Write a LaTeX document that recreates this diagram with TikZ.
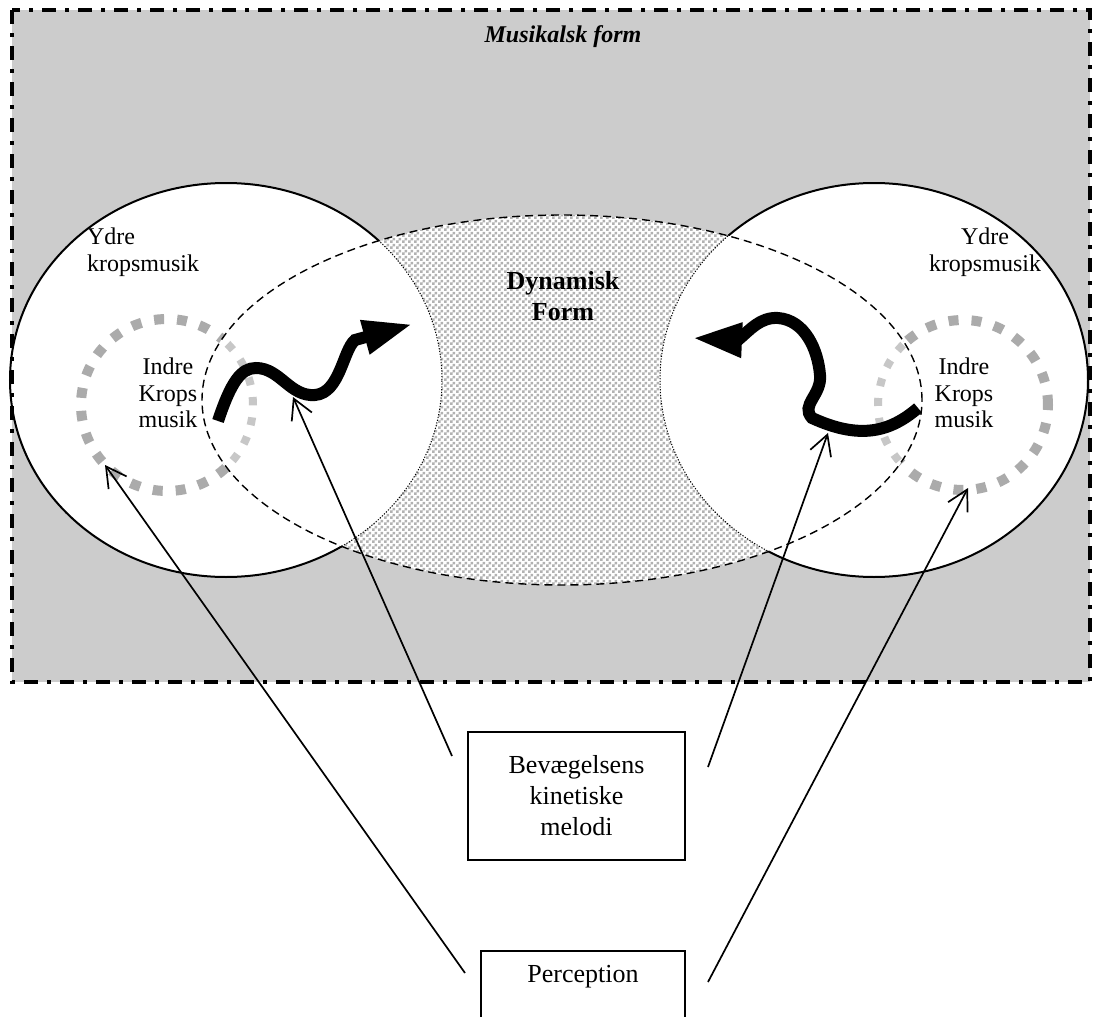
\documentclass[tikz,border=0pt]{standalone}
\usepackage{fontspec}
\setmainfont{Liberation Serif}
\usetikzlibrary{arrows.meta,patterns}
% fine grey/white checker for the dynamic field
\pgfdeclarepatternformonly{finecheck}{\pgfpointorigin}{\pgfqpoint{3pt}{3pt}}{\pgfqpoint{3pt}{3pt}}{%
  \pgfpathrectangle{\pgfpointorigin}{\pgfqpoint{1.5pt}{1.5pt}}%
  \pgfpathrectangle{\pgfqpoint{1.5pt}{1.5pt}}{\pgfqpoint{1.5pt}{1.5pt}}%
  \pgfusepath{fill}}
\begin{document}
\begin{tikzpicture}[x=0.5pt,y=-0.5pt,
  font=\fontsize{12}{13.3}\selectfont,
  ring/.style={line width=1pt},
  ringdots/.style={line width=0.5pt, dash pattern=on 0.6pt off 0.8pt},
  innerring/.style={draw=black!33, line width=5pt, dash pattern=on 5pt off 6.5pt},
  innerdots/.style={draw=black!22, line width=4pt, dash pattern=on 4pt off 6pt},
  framestyle/.style={line width=1.6pt, dash pattern=on 7pt off 4.5pt on 2pt off 4.5pt},
  fieldedge/.style={line width=0.7pt, dash pattern=on 4pt off 2.5pt},
  bigarrow/.style={line width=6pt, -{Triangle[length=25pt,width=16pt]}},
  pointer/.style={line width=0.85pt, -{Straight Barb[length=10pt,width=11pt]}},
  labelbox/.style={draw, line width=0.85pt, align=center}]
\useasboundingbox (0,0) rectangle (1094,1017);

% centres of the rings and the dynamic field
\coordinate (L)  at (226,380);
\coordinate (R)  at (874,380);
\coordinate (E)  at (562,400);
\coordinate (Li) at (167,405);
\coordinate (Ri) at (963,405);

% grey background of the musical form
\fill[black!20] (12,10) rectangle (1090,682);

% outer body-music rings
\fill[white] (L) ellipse [x radius=108pt, y radius=98.5pt];
\fill[white] (R) ellipse [x radius=107pt, y radius=98.5pt];
\draw[ring] (L) ellipse [x radius=108pt, y radius=98.5pt];
\draw[ring] (R) ellipse [x radius=107pt, y radius=98.5pt];

% inner body-music rings
\draw[innerring] (Li) circle [radius=43pt];
\draw[innerring] (Ri) circle [radius=42.5pt];

% the dynamic field, where everything overlaps
\begin{scope}
  \clip (E) ellipse [x radius=180pt, y radius=92.5pt];
  \fill[white] (E) ellipse [x radius=180pt, y radius=92.5pt];
  \fill[pattern=finecheck, pattern color=black!30]
    (E) ellipse [x radius=180pt, y radius=92.5pt];
  \fill[white] (L) ellipse [x radius=108pt, y radius=98.5pt];
  \fill[white] (R) ellipse [x radius=107pt, y radius=98.5pt];
  \draw[ringdots] (L) ellipse [x radius=108pt, y radius=98.5pt];
  \draw[ringdots] (R) ellipse [x radius=107pt, y radius=98.5pt];
  \draw[innerdots] (Li) circle [radius=43pt];
  \draw[innerdots] (Ri) circle [radius=42.5pt];
\end{scope}
\draw[fieldedge] (E) ellipse [x radius=180pt, y radius=92.5pt];

% frame
\draw[framestyle] (12,10) rectangle (1090,682);

% labels
\node[font=\bfseries\itshape\fontsize{12}{14}\selectfont] (title) at (563,37) {Musikalsk form};
\node[align=left, anchor=west] (ydreL) at (80,252) {Ydre\\kropsmusik};
\node[align=center] (ydreR) at (985,252) {Ydre\\kropsmusik};
\node[align=center] (indreL) at (168,393) {Indre\\Krops\\musik};
\node[align=center] (indreR) at (964,393) {Indre\\Krops\\musik};
\node[align=center, font=\bfseries\fontsize{13}{15.5}\selectfont] (dyn) at (563,296) {Dynamisk\\Form};

% boxes
\node[labelbox, minimum width=108.5pt, minimum height=64pt,
      font=\fontsize{13}{15.5}\selectfont] (bev) at (576.5,796)
  {Bevægelsens\\kinetiske\\melodi};
\node[labelbox, anchor=north, minimum width=102pt, inner ysep=7pt,
      font=\fontsize{13}{15.5}\selectfont,
      text height=9pt, text depth=30pt] (perc) at (583,950) {Perception};

% movement arrows
\coordinate (mL0) at (218,421);
\coordinate (mL1) at (413,324);
\coordinate (mR0) at (918,408);
\coordinate (mR1) at (692,338);
\draw[bigarrow] (mL0) .. controls (231,382) and (241,368) .. (256,368)
  .. controls (280,368) and (290,397) .. (315,395)
  .. controls (340,393) and (343,350) .. (355,340) -- (mL1);
\draw[bigarrow] (mR0) .. controls (890,432) and (860,440) .. (812,418)
  .. controls (800,405) and (822,395) .. (820,375)
  .. controls (818,350) and (805,320) .. (778,318)
  .. controls (760,317) and (750,330) .. (738,340) -- (mR1);

% pointers
\coordinate (pA) at (465,973);
\coordinate (pB) at (452,756);
\coordinate (pC) at (708,767);
\coordinate (pD) at (708,982);
\coordinate (tA) at (105,465);
\coordinate (tB) at (293,397);
\coordinate (tC) at (828,433);
\coordinate (tD) at (968,488);
\draw[pointer] (pA) -- (tA);
\draw[pointer] (pB) -- (tB);
\draw[pointer] (pC) -- (tC);
\draw[pointer] (pD) -- (tD);
\end{tikzpicture}
\end{document}
